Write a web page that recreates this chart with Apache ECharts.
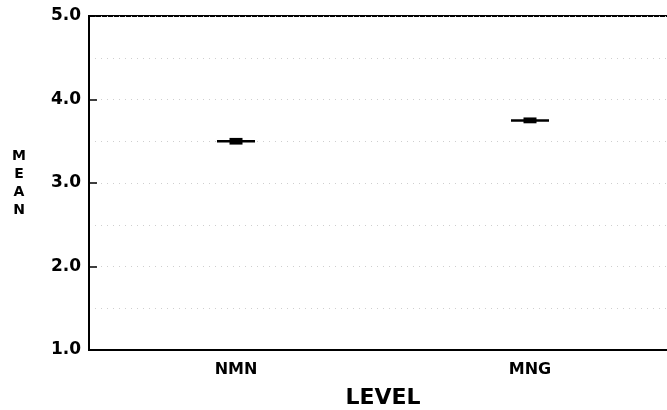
<!DOCTYPE html>
<html>
<head>
<meta charset="utf-8">
<script src="https://cdn.jsdelivr.net/npm/echarts@6/dist/echarts.min.js"></script>
<style>
  html, body { margin: 0; padding: 0; background: #fff; }
  #chart { width: 667px; height: 410px; }
</style>
</head>
<body>
<div id="chart"></div>
<script>
// data
const levels = ['NMN', 'MNG'];
const means = [3.50, 3.75];
const seLow = [3.46, 3.715];
const seHigh = [3.54, 3.785];

const FONT = 'DejaVu Sans';
const chart = echarts.init(document.getElementById('chart'), null, { renderer: 'canvas' });

const gridDots = { color: '#cfcfcf', width: 1, type: [1, 5] };

chart.setOption({
  animation: false,
  backgroundColor: '#fff',
  grid: {
    left: 89, right: -10, top: 16, bottom: 60,
    outerBoundsMode: 'none',
    containLabel: false,
    show: true, borderColor: '#000', borderWidth: 2
  },
  xAxis: {
    type: 'category',
    data: levels,
    name: 'LEVEL',
    nameLocation: 'middle',
    nameGap: 37,
    nameTextStyle: { fontFamily: FONT, fontWeight: 'bold', fontSize: 22, color: '#000' },
    axisLine: { lineStyle: { color: '#000', width: 2 } },
    axisTick: { alignWithLabel: true, inside: true, length: 6, lineStyle: { color: '#000', width: 1.5 } },
    axisLabel: { margin: 12, fontFamily: FONT, fontWeight: 'bold', fontSize: 16, color: '#000' },
    splitLine: { show: false }
  },
  yAxis: {
    type: 'value',
    min: 1, max: 5, interval: 1,
    name: 'M\nE\nA\nN',
    nameLocation: 'middle',
    nameRotate: 0,
    nameGap: 70,
    nameTextStyle: {
      fontFamily: FONT, fontWeight: 'bold', fontSize: 14, lineHeight: 18,
      color: '#000', align: 'center'
    },
    axisLine: { show: true, lineStyle: { color: '#000', width: 2 } },
    axisTick: { show: true, inside: true, length: 8, lineStyle: { color: '#000', width: 1.5 } },
    axisLabel: {
      margin: 8, fontFamily: FONT, fontWeight: 'bold', fontSize: 17, color: '#000',
      formatter: v => v.toFixed(1)
    },
    splitLine: { show: true, lineStyle: gridDots },
    minorTick: { show: false, splitNumber: 2 },
    minorSplitLine: { show: true, lineStyle: gridDots }
  },
  series: [{
    type: 'custom',
    data: levels.map((_, i) => [i, means[i], seLow[i], seHigh[i]]),
    renderItem(params, api) {
      const c = api.coord([api.value(0), api.value(1)]);
      const lo = api.coord([api.value(0), api.value(2)]);
      const hi = api.coord([api.value(0), api.value(3)]);
      return {
        type: 'group',
        children: [
          { type: 'line', shape: { x1: c[0] - 19, y1: c[1], x2: c[0] + 19, y2: c[1] }, style: { stroke: '#000', lineWidth: 2.5 } },
          { type: 'rect', shape: { x: c[0] - 6.5, y: hi[1], width: 13, height: lo[1] - hi[1] }, style: { fill: '#000' } }
        ]
      };
    }
  }]
});
</script>
</body>
</html>
